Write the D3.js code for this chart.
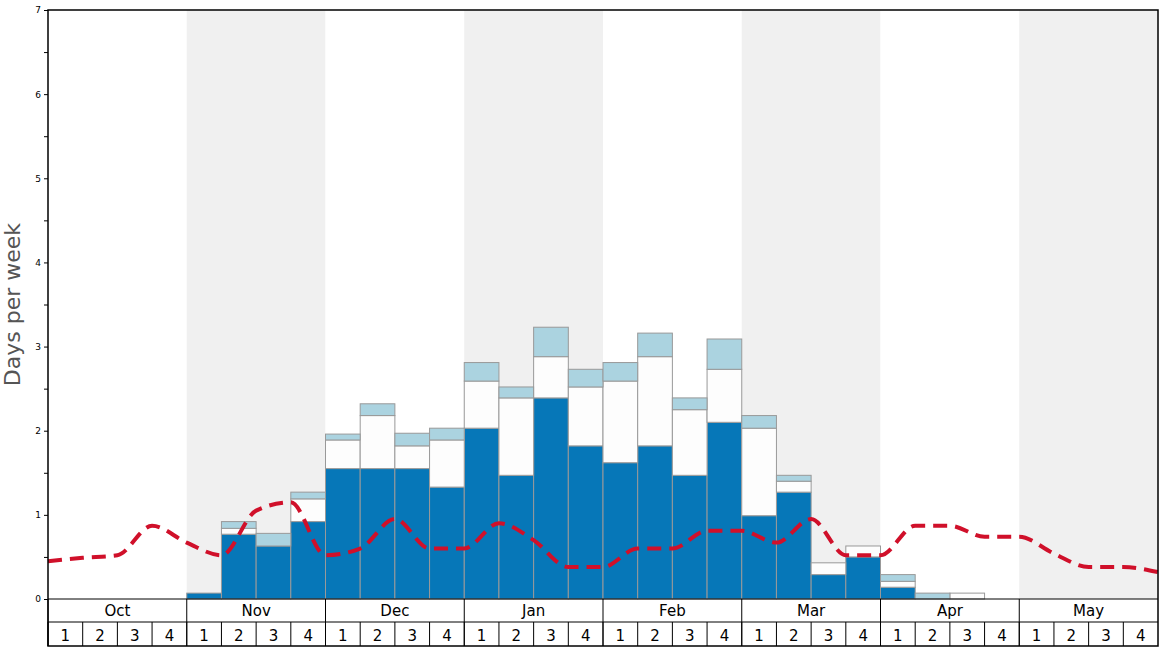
<!DOCTYPE html>
<html><head><meta charset="utf-8">
<script src="https://cdn.jsdelivr.net/npm/d3@7"></script>
<style>body{margin:0;background:#fff;font-family:"DejaVu Sans",sans-serif}</style>
</head><body><div id="chart"></div>
<script>
var months = ["Oct","Nov","Dec","Jan","Feb","Mar","Apr","May"];
var weekLabels = ["1","2","3","4"];
// per-week values, 32 weeks Oct1..May4
var darkVals  = [0,0,0,0, 0.07,0.77,0.63,0.92, 1.55,1.55,1.55,1.33, 2.03,1.47,2.39,1.82, 1.62,1.82,1.47,2.10, 0.99,1.27,0.29,0.50, 0.14,0,0,0, 0,0,0,0];
var whiteVals = [0,0,0,0, 0,0.07,0,0.27, 0.34,0.63,0.27,0.56, 0.56,0.92,0.49,0.70, 0.97,1.06,0.78,0.63, 1.04,0.13,0.14,0.13, 0.07,0,0.07,0, 0,0,0,0];
var lightVals = [0,0,0,0, 0,0.08,0.15,0.08, 0.07,0.14,0.15,0.14, 0.22,0.13,0.35,0.21, 0.22,0.28,0.14,0.36, 0.15,0.07,0,0, 0.08,0.07,0,0, 0,0,0,0];
// average line, at week boundaries 0..32
var avgLine = [0.45,0.49,0.52,0.87,0.67,0.52,1.05,1.15, 0.52,0.6,0.95,0.6,0.6,0.9,0.7,0.38,0.38,0.6,0.6,0.81,0.81,0.67,0.95,0.52,0.52,0.87,0.87,0.74,0.74,0.54,0.38,0.38,0.32];
var yTicks = [0,1,2,3,4,5,6,7];

var W = 1168, H = 648, plotL = 48, plotR = 1158, plotT = 10, plotB = 599;
var svg = d3.select("#chart").append("svg").attr("width", W).attr("height", H);

var x = d3.scaleLinear().domain([0, 32]).range([plotL, plotR]);
var y = d3.scaleLinear().domain([0, 7]).range([plotB, plotT]);

// month shading
svg.selectAll(".shade").data(months).enter().append("rect")
  .attr("x", (d, i) => x(i * 4)).attr("y", plotT)
  .attr("width", x(4) - x(0)).attr("height", plotB - plotT)
  .attr("fill", (d, i) => i % 2 ? "#f0f0f0" : "#fff");

// stacked bars
var rows = darkVals.map((d, i) => ({week: i, dark: d, white: whiteVals[i], light: lightVals[i]}));
var stack = d3.stack().keys(["dark", "white", "light"])(rows);
var colors = {dark: "#0677b8", white: "#fdfdfd", light: "#abd3e0"};
svg.selectAll(".layer").data(stack).enter().append("g")
  .attr("fill", d => colors[d.key])
  .selectAll("rect").data(d => d.filter(p => p[1] - p[0] > 0)).enter().append("rect")
  .attr("x", d => x(d.data.week)).attr("width", x(1) - x(0))
  .attr("y", d => y(d[1])).attr("height", d => y(d[0]) - y(d[1]))
  .attr("stroke", "#999").attr("stroke-width", 1);

// average line
svg.append("path").datum(avgLine)
  .attr("d", d3.line().x((d, i) => x(i)).y(d => y(d)).curve(d3.curveMonotoneX))
  .attr("fill", "none").attr("stroke", "#d0102a").attr("stroke-width", 4)
  .attr("stroke-dasharray", "14,8");

// y axis
var yAxis = d3.axisLeft(y).tickValues(d3.range(0, 7.01, 0.5)).tickSize(4)
  .tickFormat(d => yTicks.includes(d) ? d : "");
var ga = svg.append("g").attr("transform", "translate(" + plotL + ",0)").call(yAxis);
ga.selectAll("text").attr("font-size", 9).attr("font-family", "DejaVu Sans");
ga.select(".domain").remove();

svg.append("text").attr("transform", "translate(20," + ((plotT + plotB) / 2) + ") rotate(-90)")
  .attr("text-anchor", "middle").attr("font-size", 22).attr("fill", "#555")
  .text("Days per week");

// frame
svg.append("rect").attr("x", plotL).attr("y", plotT).attr("width", plotR - plotL).attr("height", 646 - plotT)
  .attr("fill", "none").attr("stroke", "#000").attr("stroke-width", 1.5);
svg.append("line").attr("x1", plotL).attr("x2", plotR).attr("y1", plotB).attr("y2", plotB).attr("stroke", "#000");
svg.append("line").attr("x1", plotL).attr("x2", plotR).attr("y1", 622).attr("y2", 622).attr("stroke", "#000");

// month labels
svg.selectAll(".msep").data(months).enter().append("line")
  .attr("x1", (d, i) => x(i * 4)).attr("x2", (d, i) => x(i * 4))
  .attr("y1", plotB).attr("y2", 646).attr("stroke", "#000");
svg.selectAll(".mlab").data(months).enter().append("text")
  .attr("x", (d, i) => x(i * 4 + 2)).attr("y", 616).attr("text-anchor", "middle")
  .attr("font-size", 15).text(d => d);

// week labels
var weeks = d3.range(32);
svg.selectAll(".wsep").data(weeks).enter().append("line")
  .attr("x1", d => x(d)).attr("x2", d => x(d)).attr("y1", 622).attr("y2", 646).attr("stroke", "#000");
svg.selectAll(".wlab").data(weeks).enter().append("text")
  .attr("x", d => x(d + 0.5)).attr("y", 641).attr("text-anchor", "middle")
  .attr("font-size", 15).text(d => weekLabels[d % 4]);
</script></body></html>
